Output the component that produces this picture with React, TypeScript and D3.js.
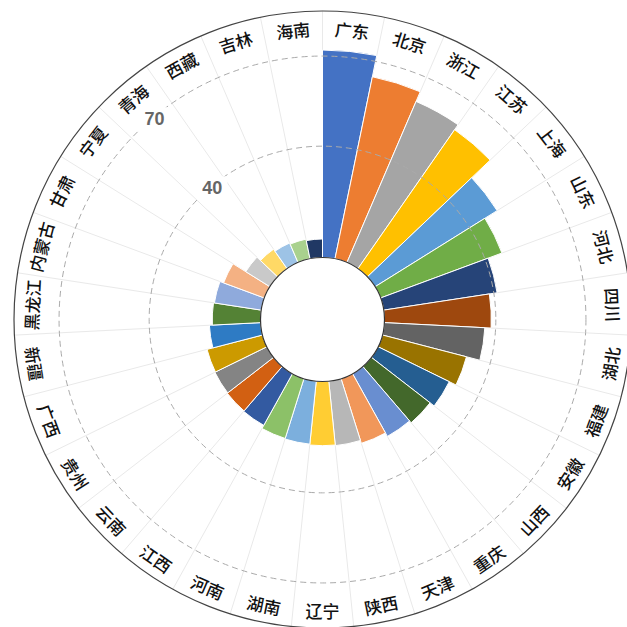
import React from "react";
import * as d3 from "d3";

// Provinces, clockwise from twelve o'clock
const provinces = [
  "广东", "北京", "浙江", "江苏", "上海", "山东", "河北", "四川", "湖北", "福建",
  "安徽", "山西", "重庆", "天津", "陕西", "辽宁", "湖南", "河南", "江西", "云南",
  "贵州", "广西", "新疆", "黑龙江", "内蒙古", "甘肃", "宁夏", "青海", "西藏", "吉林", "海南",
];

const values = [
  72, 64.8, 61.3, 59.3, 50.8, 46, 41.1, 38.5, 36.4, 31.8,
  29.3, 27.6, 26.8, 25.5, 24.5, 24.3, 24, 23.8, 22.6, 22.4,
  22.2, 22, 20, 19, 18.7, 17.4, 12.4, 10.8, 10, 9.6, 9.1,
];

const barColors = [
  "#4472C4", "#ED7D31", "#A5A5A5", "#FFC000", "#5B9BD5", "#70AD47",
  "#264478", "#9E480E", "#636363", "#997300", "#255E91", "#43682B",
  "#698ED0", "#F1975A", "#B7B7B7", "#FFCD33", "#7CAFDD", "#8CC168",
  "#335AA1", "#D26012", "#848484", "#CC9A00", "#2E7BC4", "#548235",
  "#8FAADC", "#F4B183", "#C9C9C9", "#FFD966", "#9DC3E6", "#A9D18E",
  "#203864",
];

const radialTicks = [40, 70];
const radialMax = 85;

const W = 627;
const H = 627;
const cx = 322.5;
const cy = 319.5;
const holeR = 62;
const zeroR = 53.2;
const outerR = 308.5;
const labelR = 291;
const tickAngle = -40; // degrees, clockwise from north

export default function App() {
  const angle = d3
    .scaleBand<string>()
    .domain(provinces)
    .range([0, 2 * Math.PI])
    .padding(0);

  const radius = d3.scaleLinear().domain([0, radialMax]).range([zeroR, outerR]);

  const arc = d3.arc<any>();

  const rows = provinces.map((p, i) => ({ name: p, value: values[i], color: barColors[i] }));

  const toDeg = (a: number) => (a * 180) / Math.PI;

  return (
    <div style={{ position: "absolute", left: 0, top: 0, width: W, height: H, background: "#fff" }}>
      <svg width={W} height={H} style={{ display: "block" }}>
        <g transform={`translate(${cx},${cy})`}>
          {/* spoke lines on category boundaries */}
          {provinces.map((p) => {
            const a = angle(p)!;
            return (
              <line
                key={`spoke-${p}`}
                x1={holeR * Math.sin(a)}
                y1={-holeR * Math.cos(a)}
                x2={outerR * Math.sin(a)}
                y2={-outerR * Math.cos(a)}
                stroke="#e9e9e9"
                strokeWidth={1}
              />
            );
          })}

          {/* bars */}
          {rows.map((d) => {
            const a0 = angle(d.name)!;
            const a1 = a0 + angle.bandwidth();
            const path = arc({
              innerRadius: holeR,
              outerRadius: radius(d.value),
              startAngle: a0,
              endAngle: a1,
            });
            return (
              <path key={`bar-${d.name}`} d={path || ""} fill={d.color} stroke="#fff" strokeWidth={1} />
            );
          })}

          {/* dashed value rings */}
          {radialTicks.map((t) => (
            <circle
              key={`ring-${t}`}
              r={radius(t)}
              fill="none"
              stroke="#aaaaaa"
              strokeWidth={1}
              strokeDasharray="6,4"
            />
          ))}

          {/* centre hole */}
          <circle r={holeR} fill="#fff" stroke="#333" strokeWidth={1.2} />

          {/* outer boundary */}
          <circle r={outerR} fill="none" stroke="#444" strokeWidth={1.2} />

          {/* category labels, tangential */}
          {provinces.map((p) => {
            const mid = angle(p)! + angle.bandwidth() / 2;
            const deg = toDeg(mid);
            const x = labelR * Math.sin(mid);
            const y = -labelR * Math.cos(mid);
            let rot = deg;
            if (deg > 90 && deg < 270) rot = deg - 180;
            else if (deg >= 270) rot = deg - 360;
            return (
              <text
                key={`lab-${p}`}
                transform={`translate(${x},${y}) rotate(${rot})`}
                textAnchor="middle"
                dominantBaseline="central"
                fontFamily="'Noto Sans CJK SC', 'Noto Sans', sans-serif"
                fontSize={17}
                fontWeight={500}
                fill="#111"
              >
                {p}
              </text>
            );
          })}

          {/* value labels along the radial axis */}
          {radialTicks.map((t) => {
            const a = (tickAngle * Math.PI) / 180;
            const r = radius(t) - 2;
            const x = r * Math.sin(a);
            const y = -r * Math.cos(a);
            return (
              <g key={`tick-${t}`} transform={`translate(${x},${y})`}>
                <rect x={-15} y={-12} width={30} height={24} fill="#fff" />
                <text
                  textAnchor="middle"
                  dominantBaseline="central"
                  fontFamily="'Liberation Sans', Arial, sans-serif"
                  fontSize={18}
                  fontWeight={700}
                  fill="#666"
                >
                  {t}
                </text>
              </g>
            );
          })}
        </g>
      </svg>
    </div>
  );
}
